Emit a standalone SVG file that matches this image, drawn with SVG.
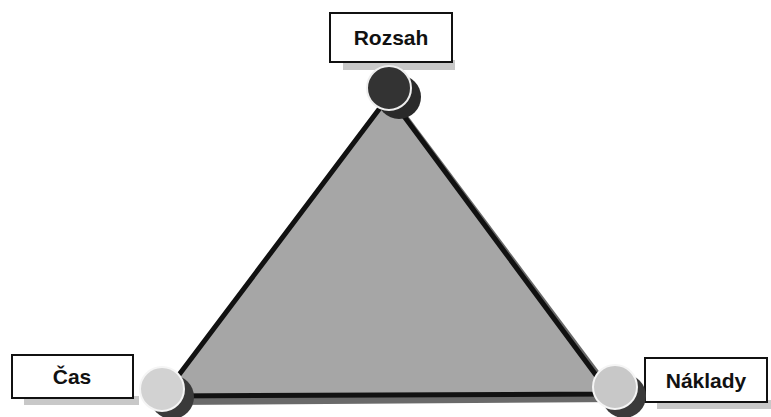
<svg xmlns="http://www.w3.org/2000/svg" width="771" height="417" viewBox="0 0 771 417">
<style>
.lbl{fill:#fff;stroke:#111;stroke-width:2}
.sh{fill:#c8c8c8}
.t{font-family:"Liberation Sans",Arial,sans-serif;font-weight:bold;font-size:21px;fill:#111;text-anchor:middle}
.edge{stroke:#111;stroke-width:5;fill:none;stroke-linejoin:round}
</style>
<rect width="771" height="417" fill="#fff"/>
<g id="triangle">
<polygon points="396,100 622,402 170,405" fill="#6a6a6a"/>
<polygon points="389,94 610,394 163,396" fill="#a6a6a6"/>
</g>
<g id="connectors">
<path class="edge" d="M389,96 L163,396 L610,394 Z"/>
</g>
<g id="rozsah">
<rect class="sh" x="343" y="60" width="112" height="10"/>
<rect class="lbl" x="330" y="13" width="122" height="49"/>
<text class="t" x="391" y="45">Rozsah</text>
<circle cx="399" cy="97" r="22" fill="#2a2a2a"/>
<circle cx="389" cy="88" r="22" fill="#333" stroke="#eee" stroke-width="2"/>
</g>
<g id="cas">
<rect class="sh" x="24" y="396" width="115" height="9"/>
<rect class="lbl" x="12" y="355" width="121" height="43"/>
<text class="t" x="72" y="384">Čas</text>
<circle cx="172" cy="397" r="22" fill="#3a3a3a"/>
<circle cx="162" cy="389" r="22" fill="#d2d2d2" stroke="#f5f5f5" stroke-width="2"/>
</g>
<g id="naklady">
<rect class="sh" x="657" y="400" width="114" height="9"/>
<rect class="lbl" x="645" y="358" width="122" height="44"/>
<text class="t" x="706" y="388">Náklady</text>
<circle cx="624" cy="396" r="22" fill="#3a3a3a"/>
<circle cx="615" cy="387" r="22" fill="#c8c8c8" stroke="#f5f5f5" stroke-width="2"/>
</g>
</svg>
